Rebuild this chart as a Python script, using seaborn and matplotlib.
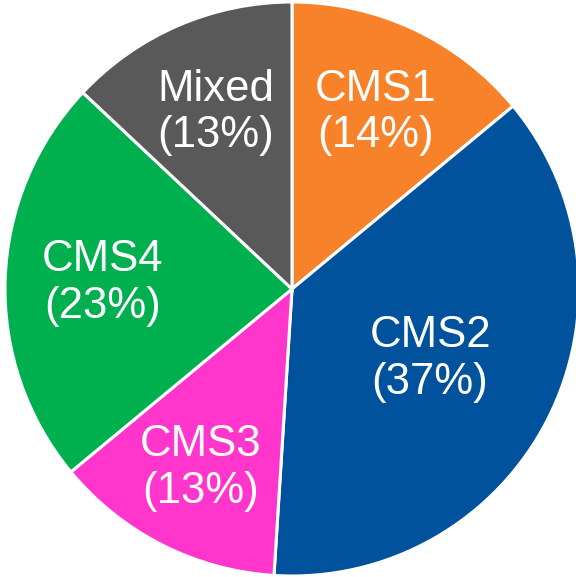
import numpy as np
import matplotlib
matplotlib.use("Agg")
import matplotlib.pyplot as plt
import seaborn as sns

categories = ["CMS1", "CMS2", "CMS3", "CMS4", "Mixed"]
values = [14, 37, 13, 23, 13]
colors = ["#F7822A", "#00529C", "#FF35CC", "#00B04F", "#595959"]
label_dist = [0.68, 0.54, 0.70, 0.66, 0.67]

sns.set_theme(style="white")
plt.rcParams['font.family'] = ['Liberation Sans', 'DejaVu Sans']

fig = plt.figure(figsize=(5.76, 5.77), dpi=100)
ax = fig.add_axes([0, 0, 1, 1])
wedges, _ = ax.pie(values, colors=colors, startangle=90, counterclock=False,
                   radius=1.0, wedgeprops=dict(edgecolor="white", linewidth=2.2))
total = sum(values)
for w, cat, v, d in zip(wedges, categories, values, label_dist):
    ang = np.deg2rad((w.theta1 + w.theta2) / 2)
    ax.text(d * np.cos(ang), d * np.sin(ang), f"{cat}\n({round(100*v/total)}%)",
            ha="center", va="center", color="white", fontsize=31.5,
            linespacing=1.18)
R = 287.0
cx, cy = 292.0, 289.0
ax.set_xlim(-cx / R, (576 - cx) / R)
ax.set_ylim(-(577 - cy) / R, cy / R)
ax.set_aspect("equal")
ax.axis("off")
fig.savefig("out.png", dpi=100)
